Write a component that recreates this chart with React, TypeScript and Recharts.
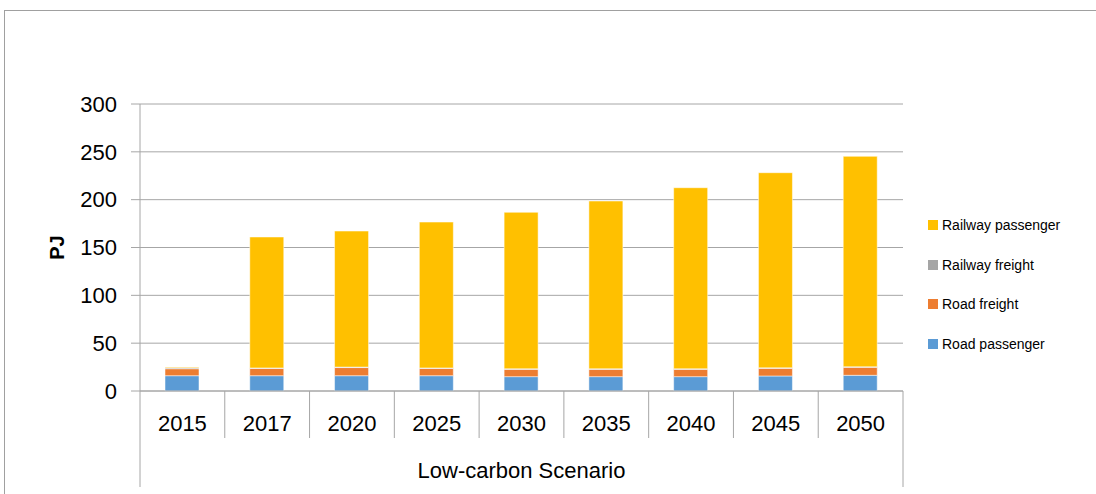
import React from 'react';
import { BarChart, Bar, XAxis, YAxis, CartesianGrid } from 'recharts';

// Energy demand by transport mode, Low-carbon Scenario (PJ)
const years = ['2015', '2017', '2020', '2025', '2030', '2035', '2040', '2045', '2050'];
const roadPassenger = [16, 16, 16, 16, 15, 15, 15, 15.7, 16.4];
const roadFreight = [7.3, 7.6, 8.5, 7.6, 7.7, 7.7, 7.7, 8, 8.4];
const railwayFreight = [1, 0.5, 0.5, 0.5, 0.5, 0.5, 0.5, 0.5, 0.5];
const railwayPassenger = [0.7, 136.9, 142.2, 152.5, 163.6, 175.4, 189.3, 204, 220];
const yTicks = [0, 50, 100, 150, 200, 250, 300];
const groupLabel = 'Low-carbon Scenario';

const series = [
  { key: 'roadPassenger', name: 'Road passenger', color: '#5B9BD5', values: roadPassenger },
  { key: 'roadFreight', name: 'Road freight', color: '#ED7D31', values: roadFreight },
  { key: 'railwayFreight', name: 'Railway freight', color: '#A5A5A5', values: railwayFreight },
  { key: 'railwayPassenger', name: 'Railway passenger', color: '#FFC000', values: railwayPassenger },
];

const data = years.map((year, i) => {
  const row: Record<string, string | number> = { year };
  series.forEach((s) => {
    row[s.key] = s.values[i];
  });
  return row;
});

const FONT = '"Liberation Sans", Arial, sans-serif';
const CHART_W = 1096;
const CHART_H = 494;
const MARGIN = { top: 104, right: 193, bottom: 0, left: 0 };
const Y_AXIS_W = 140;
const PLOT_W = CHART_W - MARGIN.left - MARGIN.right - Y_AXIS_W;
const BAND = PLOT_W / years.length;
const GRID = '#a6a6a6';

// Two-level category axis: year labels, separators and a group label underneath
const CategoryTick = (props: any) => {
  const { x, y, payload, index } = props;
  const left = x - BAND / 2;
  const right = x + BAND / 2;
  const last = index === years.length - 1;
  return (
    <g>
      <line x1={left} y1={y} x2={left} y2={index === 0 ? y + 96 : y + 47} stroke={GRID} strokeWidth={1} />
      {last && <line x1={right} y1={y} x2={right} y2={y + 96} stroke={GRID} strokeWidth={1} />}
      <text x={x} y={y + 32} textAnchor="middle" dominantBaseline="central" fontSize={22} fontFamily={FONT} fill="#000">
        {payload.value}
      </text>
      {index === 0 && (
        <text x={left + PLOT_W / 2} y={y + 79} textAnchor="middle" dominantBaseline="central" fontSize={22} fontFamily={FONT} fill="#000">
          {groupLabel}
        </text>
      )}
    </g>
  );
};

const AxisTitle = (props: any) => {
  const vb = props.viewBox || {};
  const cx = 57;
  const cy = (vb.y ?? 0) + (vb.height ?? 0) / 2;
  return (
    <text
      x={cx}
      y={cy}
      transform={`rotate(-90, ${cx}, ${cy})`}
      textAnchor="middle"
      dominantBaseline="central"
      fontSize={20}
      fontWeight="bold"
      fontFamily={FONT}
      fill="#000"
    >
      PJ
    </text>
  );
};

export default function App() {
  const legendItems = [...series].reverse();
  return (
    <div style={{ position: 'absolute', left: 0, top: 0, width: CHART_W, height: CHART_H, overflow: 'hidden', background: '#fff' }}>
      <div
        style={{
          position: 'absolute',
          left: 4,
          top: 10,
          width: CHART_W - 4,
          height: CHART_H - 10,
          borderTop: '1px solid #a0a0a0',
          borderLeft: '1px solid #a0a0a0',
          boxSizing: 'border-box',
        }}
      />
      <div style={{ position: 'absolute', left: 0, top: 0 }}>
        <BarChart width={CHART_W} height={CHART_H} data={data} margin={MARGIN} barSize={34}>
          <CartesianGrid vertical={false} stroke={GRID} strokeWidth={1} />
          <XAxis
            dataKey="year"
            height={CHART_H - MARGIN.top - 287}
            axisLine={{ stroke: GRID }}
            tickLine={false}
            tickSize={0}
            tickMargin={0}
            interval={0}
            tick={<CategoryTick />}
          />
          <YAxis
            width={Y_AXIS_W}
            domain={[0, 300]}
            ticks={yTicks}
            interval={0}
            axisLine={{ stroke: GRID }}
            tickLine={{ stroke: GRID }}
            tickSize={9}
            tickMargin={14}
            tick={{ fontSize: 22, fontFamily: FONT, fill: '#000' }}
            label={<AxisTitle />}
          />
          {series.map((s) => (
            <Bar
              key={s.key}
              dataKey={s.key}
              name={s.name}
              stackId="total"
              fill={s.color}
              stroke="#ffffff"
              strokeOpacity={0.5}
              strokeWidth={1}
              isAnimationActive={false}
            />
          ))}
        </BarChart>
      </div>
      <div style={{ position: 'absolute', left: 928, top: 205, fontFamily: FONT, fontSize: 14, color: '#000' }}>
        {legendItems.map((s) => (
          <div key={s.key} style={{ height: 39.7, display: 'flex', alignItems: 'center', whiteSpace: 'nowrap' }}>
            <span style={{ display: 'inline-block', width: 10, height: 10, background: s.color, marginRight: 4 }} />
            <span>{s.name}</span>
          </div>
        ))}
      </div>
    </div>
  );
}
